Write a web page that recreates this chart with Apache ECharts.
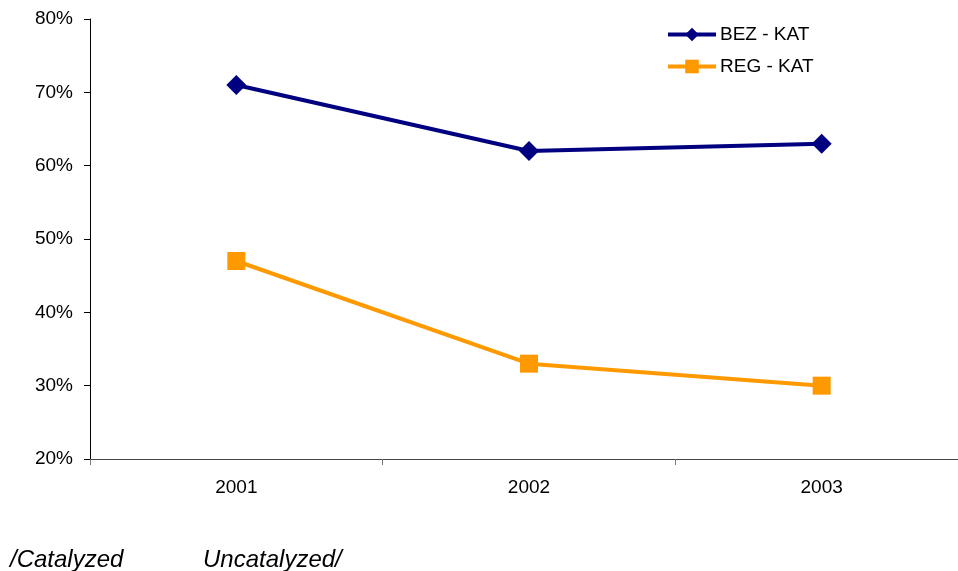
<!DOCTYPE html>
<html>
<head>
<meta charset="utf-8">
<script src="https://cdn.jsdelivr.net/npm/echarts@6/dist/echarts.min.js"></script>
<style>
  html, body { margin: 0; padding: 0; background: #fff; overflow: hidden; }
  /* the drawing surface is a little wider than the page so the x axis runs off the right edge */
  #chart { width: 968px; height: 571px; }
</style>
</head>
<body>
<div id="chart"></div>
<script>
// Share of samples by year, per group (percent)
const years = ['2001', '2002', '2003'];
const bezKat = [71, 62, 63];
const regKat = [47, 33, 30];
const yTicks = { min: 20, max: 80, step: 10 };

const chart = echarts.init(document.getElementById('chart'));
const font = 'Liberation Sans, Arial, sans-serif';

chart.setOption({
  animation: false,
  backgroundColor: '#ffffff',
  grid: { left: 90, top: 19, right: 0, height: 440, containLabel: false },
  legend: {
    orient: 'vertical',
    left: 666,
    top: 25,
    padding: 0,
    itemWidth: 48,
    itemHeight: 17,
    itemGap: 13,
    lineStyle: { width: 4 },
    textStyle: { fontFamily: font, fontSize: 19, color: '#000', padding: [0, 0, 0, -1] },
    data: ['BEZ - KAT', 'REG - KAT']
  },
  xAxis: {
    type: 'category',
    data: years,
    boundaryGap: true,
    axisLine: { lineStyle: { color: '#444', width: 1 } },
    axisTick: { show: true, inside: false, length: 6, lineStyle: { color: '#777' } },
    axisLabel: { fontFamily: font, fontSize: 19, color: '#000', margin: 19 },
    splitLine: { show: false }
  },
  yAxis: {
    type: 'value',
    min: yTicks.min,
    max: yTicks.max,
    interval: yTicks.step,
    axisLine: { show: true, lineStyle: { color: '#000', width: 1 } },
    axisTick: { show: true, length: 6, lineStyle: { color: '#000' } },
    axisLabel: { fontFamily: font, fontSize: 19, color: '#000', margin: 17, formatter: '{value}%' },
    splitLine: { show: false }
  },
  series: [
    {
      name: 'BEZ - KAT',
      type: 'line',
      data: bezKat,
      color: '#000080',
      lineStyle: { width: 4, color: '#000080' },
      symbol: 'diamond',
      symbolSize: 20,
      itemStyle: { color: '#000080' }
    },
    {
      name: 'REG - KAT',
      type: 'line',
      data: regKat,
      color: '#FF9900',
      lineStyle: { width: 4, color: '#FF9900' },
      symbol: 'rect',
      symbolSize: 18,
      itemStyle: { color: '#FF9900' }
    }
  ],
  graphic: [
    {
      type: 'text', x: 10, y: 560,
      style: { text: '/Catalyzed', font: 'italic 24px ' + font, fill: '#000', verticalAlign: 'middle' }
    },
    {
      type: 'text', x: 203, y: 560,
      style: { text: 'Uncatalyzed/', font: 'italic 24px ' + font, fill: '#000', verticalAlign: 'middle' }
    }
  ]
});
</script>
</body>
</html>
